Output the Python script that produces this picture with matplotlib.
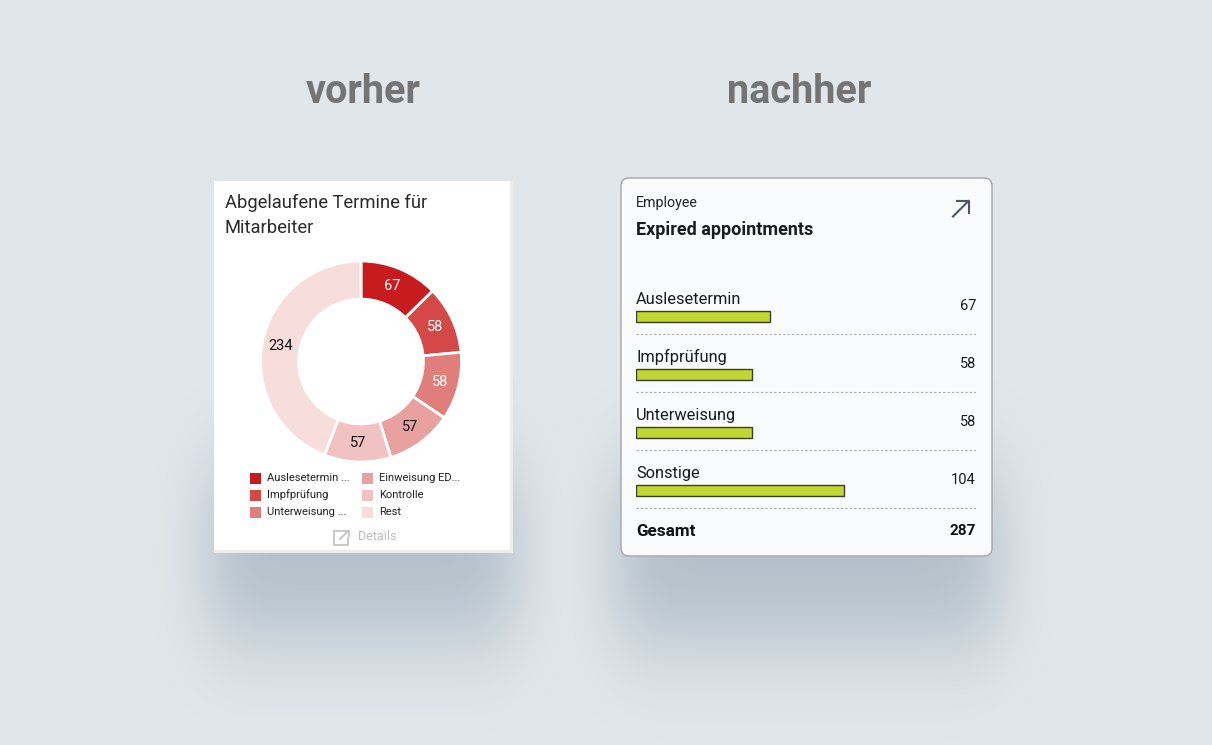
import numpy as np
import matplotlib
matplotlib.use("Agg")
import matplotlib.pyplot as plt
from matplotlib.patches import Rectangle, FancyBboxPatch

plt.rcParams['font.family'] = ['Roboto', 'DejaVu Sans']

# ---------------- data ----------------
pie_labels = ["Auslesetermin ...", "Impfprüfung", "Unterweisung ...",
              "Einweisung ED...", "Kontrolle", "Rest"]
pie_values = [67, 58, 58, 57, 57, 234]
pie_colors = ["#c81b1f", "#d44848", "#e07e7b", "#e9a1a0", "#f2c1c1", "#f8dddd"]
pie_text_colors = ["white", "white", "white", "#111111", "#111111", "#111111"]

bar_categories = ["Auslesetermin", "Impfprüfung", "Unterweisung", "Sonstige"]
bar_values = [67, 58, 58, 104]
total_label = "Gesamt"
total_value = 287

W, H = 1212, 745
BG = "#e0e6ea"

fig = plt.figure(figsize=(W / 100, H / 100), dpi=100)
fig.patch.set_facecolor(BG)

ax = fig.add_axes([0, 0, 1, 1])
ax.set_xlim(0, W)
ax.set_ylim(H, 0)
ax.axis("off")
ax.set_facecolor(BG)


# ---------------- shadows ----------------
def blurred_box(n, a, b, sigma):
    x = np.zeros(n)
    x[max(a, 0):min(b, n)] = 1.0
    k = np.arange(-4 * sigma, 4 * sigma + 1)
    g = np.exp(-0.5 * (k / sigma) ** 2)
    g /= g.sum()
    return np.convolve(x, g, mode="same")


shadow = np.zeros((H, W))
for (x0, x1, y0, y1) in [(210, 515, 470, 635), (617, 997, 470, 640)]:
    fx = blurred_box(W, x0, x1, 28)
    fy = blurred_box(H, y0, y1, 45)
    shadow = np.maximum(shadow, np.outer(fy, fx))
rgba = np.zeros((H, W, 4))
rgba[..., 0] = 100 / 255
rgba[..., 1] = 120 / 255
rgba[..., 2] = 145 / 255
rgba[..., 3] = shadow * 0.36
ax.imshow(rgba, extent=[0, W, H, 0], interpolation="bilinear", zorder=0, aspect="auto")

# ---------------- headings ----------------
ax.text(363, 92, "vorher", ha="center", va="center", fontsize=28.5,
        fontweight="bold", color="#747474", zorder=2)
ax.text(799, 92, "nachher", ha="center", va="center", fontsize=28.5,
        fontweight="bold", color="#747474", zorder=2)

# ---------------- left card ----------------
ax.add_patch(Rectangle((214, 181), 299, 372, facecolor="#ececec", edgecolor="none", zorder=1))
ax.add_patch(Rectangle((214, 181), 296, 369, facecolor="white", edgecolor="none", zorder=1.1))
ax.text(225, 203, "Abgelaufene Termine für", ha="left", va="center", fontsize=13.2,
        color="#2b2b2b", zorder=2)
ax.text(225, 228, "Mitarbeiter", ha="left", va="center", fontsize=13.2,
        color="#2b2b2b", zorder=2)

# legend
leg_x = [250, 362]
leg_y = [478, 495, 512]
for i, (lab, col) in enumerate(zip(pie_labels, pie_colors)):
    cx = leg_x[i // 3]
    cy = leg_y[i % 3]
    ax.add_patch(Rectangle((cx, cy - 5.5), 11, 11, facecolor=col, edgecolor="none", zorder=2))
    ax.text(cx + 17, cy, lab, ha="left", va="center", fontsize=8, color="#222222", zorder=2)

# details link
ic = "#c4c4c4"
ax.plot([341, 334, 334, 348, 348], [531, 531, 545, 545, 538], color=ic, lw=1.3,
        solid_joinstyle="miter", zorder=2)
ax.plot([340, 348.5], [539, 530.5], color=ic, lw=1.3, zorder=2)
ax.plot([343, 348.5, 348.5], [530.5, 530.5, 536], color=ic, lw=1.3, zorder=2)
ax.text(358, 537, "Details", ha="left", va="center", fontsize=9, color="#bdbdbd", zorder=2)

# ---------------- right card ----------------
ax.add_patch(FancyBboxPatch((621, 178), 371, 378, boxstyle="round,pad=0,rounding_size=8",
                            facecolor="#fafbfd", edgecolor="#a2a6ab", lw=1.0, zorder=1))
ax.text(636, 203, "Employee", ha="left", va="center", fontsize=10.3, color="#222222", zorder=2)
ax.text(636, 230, "Expired appointments", ha="left", va="center", fontsize=13,
        fontweight="bold", color="#1a1a1a", zorder=2)
ac = "#4d5566"
ax.plot([953, 968.5], [216.5, 201], color=ac, lw=1.5, zorder=2)
ax.plot([957, 968.5, 968.5], [201, 201, 212.5], color=ac, lw=1.5, zorder=2)

# ---------------- donut ----------------
cx, cy, r_out, r_in = 361, 361.5, 101.5, 63
pax = fig.add_axes([(cx - r_out) / W, (H - cy - r_out) / H, 2 * r_out / W, 2 * r_out / H])
pax.set_facecolor("none")
total = sum(pie_values)
wedges, _, autotexts = pax.pie(
    pie_values, colors=pie_colors, startangle=90, counterclock=False, radius=1,
    wedgeprops=dict(width=1 - r_in / r_out, edgecolor="white", linewidth=2),
    autopct=lambda p: f"{round(p * total / 100)}", pctdistance=0.815,
    textprops=dict(fontsize=10.5))
for t, c in zip(autotexts, pie_text_colors):
    t.set_color(c)
pax.set_xlim(-1.01, 1.01)
pax.set_ylim(-1.01, 1.01)
pax.set_aspect("equal")
pax.axis("off")

# ---------------- bars ----------------
row_h = 58
top = 287
nrows = 4.6
bx0, bx1 = 636, 976
bax = fig.add_axes([bx0 / W, (H - top - row_h * nrows) / H, (bx1 - bx0) / W, row_h * nrows / H])
bax.set_facecolor("none")
bax.set_xlim(0, (bx1 - bx0) / 2)
bax.set_ylim(nrows, 0)
bax.axis("off")
ypos = np.arange(len(bar_categories)) + 0.51
bax.barh(ypos, bar_values, height=0.19, left=0, color="#bfd730", edgecolor="#3d3d30",
         linewidth=1.0)
tr = bax.get_yaxis_transform()
for i, (cat, val) in enumerate(zip(bar_categories, bar_values)):
    bax.text(0, i + 0.21, cat, transform=tr, ha="left",
             va="center", fontsize=11.8, color="#1a1a1a")
    bax.text(1, i + 0.33, str(val), transform=tr, ha="right",
             va="center", fontsize=10.5, color="#1a1a1a")
    bax.plot([0, 1.003], [i + 0.81, i + 0.81], transform=tr,
             color="#a9a9a9", lw=0.8, linestyle=(0, (2, 2)))
bax.text(0, 4.21, total_label, transform=tr, ha="left",
         va="center", fontsize=12.3, fontweight="bold", color="#111111")
bax.text(1, 4.21, str(total_value), transform=tr, ha="right",
         va="center", fontsize=11, fontweight="bold", color="#111111")

fig.savefig("out.png", dpi=100, facecolor=BG)
